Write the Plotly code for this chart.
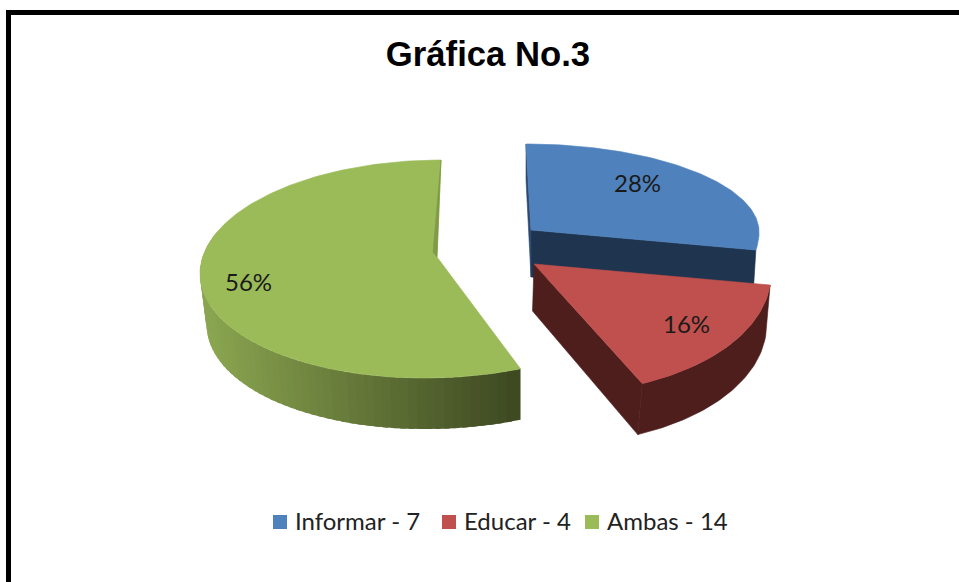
import math
import plotly.graph_objects as go

# data
categories = ["Informar", "Educar", "Ambas"]
values = [7, 4, 14]
colors_top = ["#4f81bd", "#c0504d", "#9bbb59"]
colors_wall = ["#1f344f", "#4d1e1c", None]
label_pos = [(637, 182), (686, 323), (248, 281)]
legend_x = [280, 449, 592]
legend_y = 522

# projection of each exploded slice (a rendering of a 3-D pie)
geom = [
    dict(ax=531, ay=230, rx=228, up=86, low=107, s=5, t=0, off=0, tau=0, depth=47, lean=-3),
    dict(ax=534, ay=264, rx=236, up=100, low=130, s=23, t=-3.4, off=0, tau=0, depth=51, lean=-4.5),
    dict(ax=437, ay=257, rx=237, up=112, low=110, s=-4, t=0, off=15, tau=-4, depth=51, lean=0),
]
total = sum(values)


def pt(g, deg):
    a = math.radians(deg)
    c, sn = math.cos(a), math.sin(a)
    x = g["ax"] + g["rx"] * sn - g["s"] * c
    y = g["ay"] + g["off"] - c * (g["up"] if c > 0 else g["low"]) + g["t"] * sn
    if c < 0:
        y += g["tau"] * (1 + sn)
    return x, y


def drop(g, x, y):
    lean = g["lean"]
    if g is geom[2] and x < g["ax"]:
        lean = 0.028 * (g["ax"] - x)
    return x + lean, y + g["depth"]


fig = go.Figure()


def poly(pts, color, width=0.6):
    fig.add_trace(go.Scatter(
        x=[p[0] for p in pts] + [pts[0][0]], y=[p[1] for p in pts] + [pts[0][1]],
        mode="lines", fill="toself", fillcolor=color,
        line=dict(color=color, width=width),
        showlegend=False, hoverinfo="skip"))


def arc(g, a0, a1, n=None):
    n = n or max(8, int(abs(a1 - a0)))
    return [pt(g, a0 + (a1 - a0) * i / n) for i in range(n + 1)]


def mix(c0, c1, f):
    return "rgb(%d,%d,%d)" % tuple(round(c0[i] + (c1[i] - c0[i]) * f) for i in range(3))


angles = [0]
for v in values:
    angles.append(angles[-1] + v / total * 360)

# Informar: cut face and left sliver
g = geom[0]
a0, a1 = angles[0], angles[1]
apex = (g["ax"], g["ay"])
end = pt(g, a1)
poly([apex, end, drop(g, *end), (apex[0], apex[1] + g["depth"])], colors_wall[0])
start = pt(g, a0)
poly([start, (start[0], start[1] + 36), (apex[0], apex[1] + g["depth"]), apex], "#2c4a70")
poly([apex] + arc(g, a0, a1), colors_top[0])

# Educar: cut face, outer wall, top
g = geom[1]
a0, a1 = angles[1], angles[2]
apex = (g["ax"], g["ay"])
end = pt(g, a1)
poly([apex, end, drop(g, *end), (apex[0] + g["lean"] / 3, apex[1] + g["depth"] - 4)], colors_wall[1])
top_arc = arc(g, a0, a1)
poly(top_arc + [drop(g, *p) for p in reversed(top_arc)], colors_wall[1])
poly([apex] + top_arc, colors_top[1])

# Ambas: gradient outer wall, top
g = geom[2]
a0, a1 = angles[2], angles[3]
c_dark, c_light = (63, 74, 34), (138, 165, 80)
wall_end = 290
n = 60
step = (wall_end - a0) / n
for i in reversed(range(n)):
    d0 = a0 + step * i
    d1 = d0 + step * 1.6
    p0, p1 = pt(g, d0), pt(g, d1)
    f = min(1, max(0, (521 - p0[0]) / 310))
    poly([p0, p1, drop(g, *p1), drop(g, *p0)], mix(c_dark, c_light, f), width=0)
apex = (g["ax"], g["ay"])
poly([apex] + arc(g, a0, a1), colors_top[2])
start = pt(g, a1)
poly([start, apex, (apex[0] - 4, apex[1] - 5)], "#7f9a48")

# percentage labels
for v, (lx, ly) in zip(values, label_pos):
    fig.add_annotation(x=lx, y=ly, text=f"{round(v / total * 100)}%", showarrow=False,
                       font=dict(family="Lato", size=24, color="#1a1a1a"))

# legend keys and entries
for name, v, c, lx in zip(categories, values, colors_top, legend_x):
    fig.add_trace(go.Scatter(x=[lx], y=[legend_y], mode="markers", name=f"{name} - {v}",
                             marker=dict(symbol="square", size=14, color=c),
                             showlegend=False, hoverinfo="skip"))
    fig.add_annotation(x=lx + 13, y=legend_y - 2, text=f"{name} - {v}", showarrow=False, xanchor="left",
                       font=dict(family="Lato", size=24, color="#222222"))

fig.update_layout(
    width=959, height=582, autosize=False,
    margin=dict(l=0, r=0, t=0, b=0),
    paper_bgcolor="white", plot_bgcolor="white",
    title=dict(text="<b>Gráfica No.3</b>", x=488 / 959, xanchor="center",
               y=1 - 54 / 582, yanchor="middle",
               font=dict(family="Liberation Sans", size=34.7, color="black")),
    xaxis=dict(range=[0, 959], visible=False, fixedrange=True),
    yaxis=dict(range=[582, 0], visible=False, fixedrange=True),
    showlegend=False,
    shapes=[
        dict(type="line", xref="x", yref="y", x0=8.5, x1=8.5, y0=10, y1=582,
             line=dict(color="black", width=5)),
        dict(type="line", xref="x", yref="y", x0=6, x1=959, y0=12.5, y1=12.5,
             line=dict(color="black", width=5)),
    ],
)
fig.write_html("out.html", config=dict(displayModeBar=False),
               post_script="document.body.style.margin='0';document.body.style.overflow='hidden';")
